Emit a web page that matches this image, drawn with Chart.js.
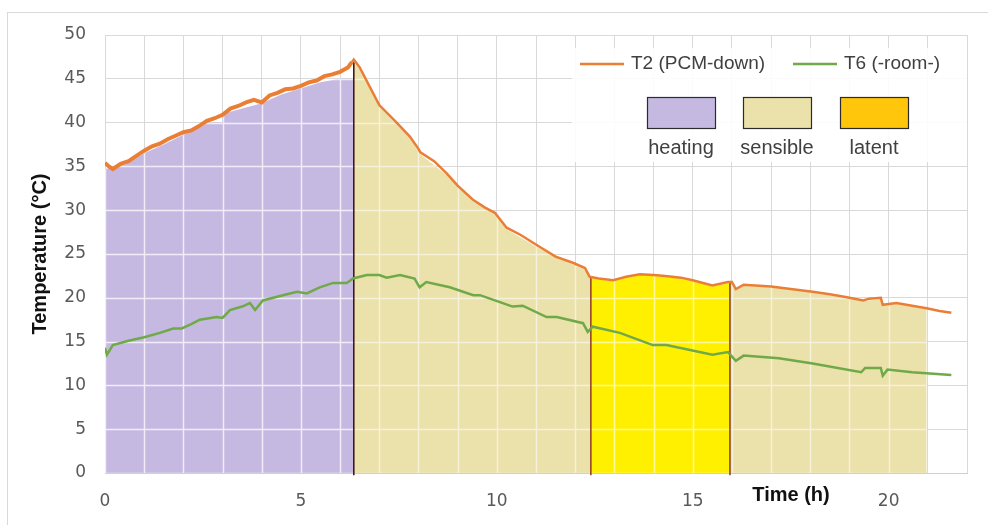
<!DOCTYPE html>
<html>
<head>
<meta charset="utf-8">
<script src="https://cdn.jsdelivr.net/npm/chart.js@4.4.1/dist/chart.umd.min.js"></script>
<style>
  html, body { margin: 0; padding: 0; background: #fff; }
  #wrap { width: 988px; height: 525px; }
</style>
</head>
<body>
<div id="wrap"><canvas id="tempChart"></canvas></div>
<script>
// T2 (PCM-down), time in h / temperature in °C
const t2Time = [0, 0.1, 0.2, 0.4, 0.6, 0.8, 1.0, 1.2, 1.4, 1.6, 1.8, 2.0, 2.2, 2.4, 2.6, 2.8, 3.0, 3.2, 3.4, 3.6, 3.8, 4.0,
  4.2, 4.4, 4.6, 4.8, 5.0, 5.2, 5.4, 5.6, 5.8, 6.0, 6.2, 6.3, 6.35, 6.5, 7.0, 7.4, 7.78, 8.0, 8.05, 8.4, 8.72, 9.0,
  9.39, 9.7, 9.95, 10.25, 10.6, 11.1, 11.5, 11.94, 12.25, 12.37, 12.6, 12.97, 13.3, 13.65, 14.0, 14.3, 14.7, 15.0,
  15.5, 15.9, 16.0, 16.1, 16.3, 17.0, 17.5, 18.06, 18.5, 18.9, 19.35, 19.5, 19.8, 19.85, 20.2, 20.6, 20.97, 21.3, 21.6];
const t2Temp = [35.4, 35.0, 34.7, 35.3, 35.6, 36.2, 36.8, 37.3, 37.6, 38.1, 38.5, 38.9, 39.1, 39.6, 40.2, 40.5, 40.9, 41.6, 41.9, 42.3, 42.6, 42.3,
  43.1, 43.4, 43.8, 43.9, 44.2, 44.6, 44.8, 45.3, 45.5, 45.8, 46.3, 46.9, 47.2, 46.3, 42.0, 40.2, 38.4, 37.0, 36.6, 35.6, 34.2, 32.8,
  31.2, 30.3, 29.7, 28.0, 27.2, 25.8, 24.7, 24.0, 23.4, 22.4, 22.2, 22.0, 22.4, 22.7, 22.6, 22.5, 22.3, 22.0,
  21.4, 21.8, 21.8, 21.0, 21.5, 21.3, 21.0, 20.7, 20.4, 20.1, 19.7, 19.9, 20.0, 19.2, 19.4, 19.1, 18.8, 18.5, 18.3];

// T6 (-room-)
const t6Time = [0, 0.05, 0.2, 0.6, 1.0, 1.4, 1.74, 1.96, 2.2, 2.42, 2.85, 3.0, 3.19, 3.5, 3.7, 3.83, 4.03, 4.54, 4.9, 5.15,
  5.48, 5.82, 6.17, 6.33, 6.68, 7.0, 7.19, 7.53, 7.9, 8.03, 8.2, 8.8, 9.4, 9.57, 10.08, 10.4, 10.66, 11.27, 11.53,
  12.2, 12.32, 12.45, 13.14, 13.98, 14.33, 15.5, 15.9, 16.1, 16.3, 17.2, 18.06, 19.3, 19.4, 19.8, 19.85, 19.97, 20.6, 21.6];
const t6Temp = [14.3, 13.5, 14.6, 15.1, 15.5, 16.0, 16.5, 16.5, 17.0, 17.5, 17.8, 17.7, 18.6, 19.0, 19.4, 18.6, 19.7, 20.3, 20.7, 20.5,
  21.2, 21.7, 21.7, 22.2, 22.6, 22.6, 22.3, 22.6, 22.2, 21.2, 21.8, 21.2, 20.3, 20.3, 19.5, 19.0, 19.1, 17.8, 17.8,
  17.1, 16.1, 16.7, 16.0, 14.6, 14.6, 13.5, 13.8, 12.8, 13.4, 13.1, 12.5, 11.5, 12.0, 12.0, 11.1, 11.8, 11.5, 11.2];

// phase areas (top edge of each shaded band)
const heatTime = [0, 0.5, 1, 1.5, 2, 2.5, 2.6, 3.0, 3.02, 3.5, 4, 4.5, 5, 5.5, 6, 6.35];
const heatTemp = [34.7, 35.2, 36.5, 37.5, 38.6, 39.6, 40, 40, 41.0, 41.6, 42.2, 43.2, 43.9, 44.6, 45, 45];
const sens1Time = [6.35, 6.5, 7, 7.78, 8.05, 8.72, 9.39, 9.95, 10.25, 11.1, 11.94, 12.25, 12.4];
const sens1Temp = [46.9, 46.0, 41.8, 38.2, 36.4, 34.0, 31.0, 29.5, 27.8, 25.6, 23.8, 23.2, 22.3];
const latTime = [12.4, 12.6, 12.97, 13.3, 13.65, 14, 14.3, 14.7, 15, 15.5, 15.95];
const latTemp = [22.3, 22.1, 21.9, 22.3, 22.6, 22.5, 22.4, 22.2, 21.9, 21.3, 21.7];
const sens2Time = [15.95, 16.1, 16.3, 17, 18.06, 18.9, 19.35, 19.8, 19.85, 20.2, 20.6, 20.97];
const sens2Temp = [21.7, 20.9, 21.4, 21.2, 20.6, 20.0, 19.6, 19.9, 19.1, 19.3, 19.0, 18.7];

// phase boundaries
const markerTime = [6.35, 12.4, 15.95];
const markerTop = [46.9, 22.4, 21.8];

const seriesNames = ['T2 (PCM-down)', 'T6 (-room-)'];
const phaseNames = ['heating', 'sensible', 'latent'];
const xTickLabels = [0, 5, 10, 15, 20];

const ORANGE = '#ea7e35';
const GREEN = '#6fa948';
const HEAT = '#c5b9e2';
const SENS = '#ebe1aa';
const LATENT = '#fff000';
const LATENT_KEY = '#ffc60b';

function pairs(xs, ys) {
  return xs.map((x, i) => ({ x: x, y: ys[i] }));
}

function area(xs, ys, color, grid) {
  return {
    data: pairs(xs, ys),
    borderWidth: 0,
    backgroundColor: color,
    fill: 'origin',
    pointRadius: 0,
    order: 5,
    gridColor: grid
  };
}

const markerSets = markerTime.map((t, i) => ({
  data: [{ x: t, y: -0.25 }, { x: t, y: markerTop[i] }],
  borderColor: i === 0 ? '#3d0c0c' : '#8e3a18',
  borderWidth: 1.5,
  pointRadius: 0,
  fill: false,
  clip: false,
  order: 3
}));

// white grid lines drawn over the shaded bands only
const fillGrid = {
  id: 'fillGrid',
  afterDatasetDraw(chart, args) {
    const ds = chart.data.datasets[args.index];
    if (!ds.gridColor) return;
    const pts = args.meta.data;
    const { ctx, chartArea, scales } = chart;
    const base = scales.y.getPixelForValue(0);
    ctx.save();
    ctx.beginPath();
    ctx.moveTo(pts[0].x, base);
    pts.forEach(p => ctx.lineTo(p.x, p.y));
    ctx.lineTo(pts[pts.length - 1].x, base);
    ctx.closePath();
    ctx.clip();
    ctx.strokeStyle = ds.gridColor;
    ctx.lineWidth = 1.5;
    ctx.beginPath();
    scales.x.ticks.forEach(t => {
      const x = Math.round(scales.x.getPixelForValue(t.value)) + 0.5;
      ctx.moveTo(x, chartArea.top);
      ctx.lineTo(x, chartArea.bottom);
    });
    scales.y.ticks.forEach(t => {
      const y = Math.round(scales.y.getPixelForValue(t.value)) + 0.5;
      ctx.moveTo(chartArea.left, y);
      ctx.lineTo(chartArea.right, y);
    });
    ctx.stroke();
    ctx.restore();
  }
};

const frame = {
  id: 'frame',
  beforeDraw(chart) {
    const ctx = chart.ctx;
    ctx.save();
    ctx.fillStyle = '#fff';
    ctx.fillRect(0, 0, chart.width, chart.height);
    ctx.strokeStyle = '#d9d9d9';
    ctx.lineWidth = 1;
    ctx.strokeRect(7.5, 12.5, 1000, 600);
    ctx.restore();
  }
};

const keyBox = {
  id: 'keyBox',
  afterDraw(chart) {
    const { ctx, chartArea } = chart;
    ctx.save();
    ctx.fillStyle = 'rgba(255,255,255,0.88)';
    ctx.fillRect(572, 48, chartArea.right - 572, 114);

    ctx.font = '19px "Liberation Sans", Arial, sans-serif';
    ctx.fillStyle = '#404040';
    ctx.textBaseline = 'middle';
    ctx.textAlign = 'left';
    const lineKeys = [[580, ORANGE], [793, GREEN]];
    lineKeys.forEach(([x, c], i) => {
      ctx.strokeStyle = c;
      ctx.lineWidth = 2.5;
      ctx.beginPath();
      ctx.moveTo(x, 64);
      ctx.lineTo(x + 44, 64);
      ctx.stroke();
      ctx.fillText(seriesNames[i], x + 51, 64);
    });

    const boxX = [647, 743, 840];
    const boxC = [HEAT, SENS, LATENT_KEY];
    ctx.font = '20px "Liberation Sans", Arial, sans-serif';
    ctx.textAlign = 'center';
    boxX.forEach((x, i) => {
      ctx.fillStyle = boxC[i];
      ctx.fillRect(x, 97, 68, 31);
      ctx.strokeStyle = '#2b2b2b';
      ctx.lineWidth = 1.2;
      ctx.strokeRect(x + 0.5, 97.5, 68, 31);
      ctx.fillStyle = '#404040';
      ctx.fillText(phaseNames[i], x + 34, 148);
    });

    ctx.font = 'bold 20px "Liberation Sans", Arial, sans-serif';
    ctx.fillStyle = '#111';
    ctx.fillText('Time (h)', 791, 495);
    ctx.restore();
  }
};

new Chart(document.getElementById('tempChart'), {
  type: 'line',
  data: {
    datasets: [
      {
        label: seriesNames[0],
        data: pairs(t2Time, t2Temp),
        borderColor: ORANGE,
        borderWidth: 2.5,
        segment: { borderWidth: c => (c.p0.parsed.x < 6.3 ? 4 : 2.5) },
        pointRadius: 0,
        fill: false,
        order: 0
      },
      {
        label: seriesNames[1],
        data: pairs(t6Time, t6Temp),
        borderColor: GREEN,
        borderWidth: 2.5,
        pointRadius: 0,
        fill: false,
        order: 1
      },
      ...markerSets,
      area(heatTime, heatTemp, HEAT, 'rgba(255,255,255,0.75)'),
      area(sens1Time, sens1Temp, SENS, 'rgba(255,255,255,0.55)'),
      area(latTime, latTemp, LATENT, 'rgba(255,255,255,0.6)'),
      area(sens2Time, sens2Temp, SENS, 'rgba(255,255,255,0.55)')
    ]
  },
  options: {
    responsive: true,
    maintainAspectRatio: false,
    animation: false,
    layout: { padding: { top: 35, right: 21, left: 0, bottom: 0 } },
    plugins: {
      legend: { display: false },
      tooltip: { enabled: false }
    },
    scales: {
      x: {
        type: 'linear',
        min: 0,
        max: 22,
        afterFit: s => { s.height = 52; },
        grid: { color: '#d9d9d9', drawTicks: false },
        border: { color: '#d0d0d0' },
        ticks: {
          stepSize: 1,
          autoSkip: false,
          maxRotation: 0,
          padding: 18,
          color: '#595959',
          font: { family: '"DejaVu Sans", Verdana, sans-serif', size: 17 },
          callback: v => (xTickLabels.includes(v) ? String(v) : '')
        }
      },
      y: {
        min: 0,
        max: 50,
        afterFit: s => { s.width = 105; },
        grid: { color: '#d9d9d9', drawTicks: false },
        border: { display: false },
        ticks: {
          stepSize: 5,
          padding: 19,
          color: '#595959',
          font: { family: '"DejaVu Sans", Verdana, sans-serif', size: 17 }
        },
        title: {
          display: true,
          text: 'Temperature (°C)',
          color: '#111',
          padding: { top: 28, bottom: 0 },
          font: { family: '"Liberation Sans", Arial, sans-serif', size: 20, weight: 'bold' }
        }
      }
    }
  },
  plugins: [frame, fillGrid, keyBox]
});
</script>
</body>
</html>
